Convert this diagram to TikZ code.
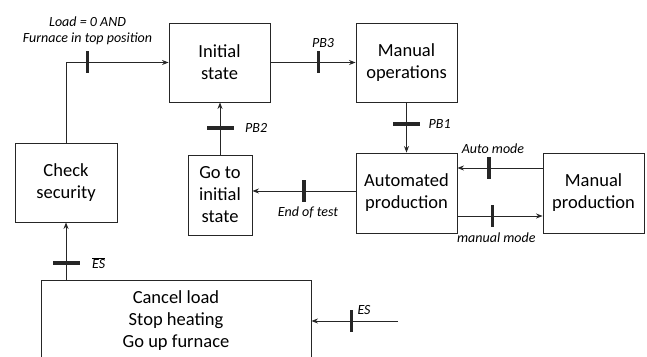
\documentclass[tikz,border=0pt]{standalone}
\usepackage{fontspec}
\setmainfont{Carlito}
\usetikzlibrary{arrows.meta,positioning}

\tikzset{
  state/.style={draw=black!85, line width=0.9pt, align=center, inner sep=2pt,
    font=\fontsize{18.5}{22}\selectfont},
  link/.style={line width=0.9pt, draw=black!85},
  vtrans/.style={fill=black!85, inner sep=0pt, minimum width=3.2pt, minimum height=22pt},
  htrans/.style={fill=black!85, inner sep=0pt, minimum width=27pt, minimum height=3.5pt},
  lbl/.style={inner sep=0pt, align=center, font=\fontsize{14}{16}\selectfont\itshape}
}

\begin{document}
\begin{tikzpicture}[x=1pt, y=1pt, >={Stealth[length=6.5pt,width=5pt]}]
  \useasboundingbox (0,0) rectangle (647,356);

  % Steps
  \node[state, minimum width=101pt, minimum height=79pt] (init) at (219.5,293.5) {Initial\\state};
  \node[state, minimum width=101pt, minimum height=79pt] (manops) at (406.5,293.5) {Manual\\operations};
  \node[state, minimum width=102pt, minimum height=79pt] (check) at (66,173.5) {Check\\security};
  \node[state, minimum width=64pt, minimum height=80pt] (goto) at (220,161) {Go to\\initial\\state};
  \node[state, minimum width=101pt, minimum height=80pt] (auto) at (406.5,163) {Automated\\production};
  \node[state, minimum width=101pt, minimum height=80pt] (manprod) at (593.5,163) {Manual\\production};
  \node[state, minimum width=270pt, minimum height=82pt] (cancel) at (176,35) {Cancel load\\Stop heating\\Go up furnace};

  % Check security -> Initial state
  \coordinate (c1) at (check.north |- init.west);
  \draw[link] (check.north) -- (c1);
  \draw[link,->] (c1) -- node[vtrans, pos=0.21] (t1) {} (init.west);
  \node[lbl, above=6pt of t1] (l1) {Load = 0 AND\\Furnace in top position};

  % Initial state -> Manual operations
  \draw[link,->] (init.east) -- node[vtrans, pos=0.56] (t2) {} (manops.west);
  \node[lbl, above=3pt of t2, xshift=5pt] (l2) {PB3};

  % Manual operations -> Automated production
  \draw[link,->] (manops.south) -- node[htrans, pos=0.43] (t3) {} (auto.north);
  \node[lbl, right=8pt of t3] (l3) {PB1};

  % Go to initial state -> Initial state
  \draw[link,->] (goto.north) -- node[htrans, pos=0.51] (t4) {} (goto.north |- init.south);
  \node[lbl, right=11pt of t4] (l4) {PB2};

  % Automated production -> Go to initial state
  \draw[link,->] ([yshift=2pt]auto.west) -- node[vtrans, pos=0.5] (t5) {} ([yshift=2pt]auto.west -| goto.east);
  \node[lbl, below=4pt of t5, xshift=4pt] (l5) {End of test};

  % Manual production <-> Automated production
  \draw[link,->] ([yshift=25pt]manprod.west) -- node[vtrans, pos=0.63] (t6) {} ([yshift=25pt]auto.east);
  \node[lbl, above=3pt of t6, xshift=4pt] (l6) {Auto mode};
  \draw[link,->] ([yshift=-23pt]auto.east) -- node[vtrans, pos=0.41] (t7) {} ([yshift=-23pt]manprod.west);
  \node[lbl, below=5pt of t7, xshift=4pt] (l7) {manual mode};

  % Emergency stop
  \draw[link,->] (check.south |- cancel.north) -- node[htrans, pos=0.29] (t8) {} (check.south);
  \node[lbl, right=12pt of t8] (l8) {$\overline{\mathit{ES}}$};
  \coordinate (esin) at (398,35);
  \draw[link,->] (esin) -- node[vtrans, pos=0.54] (t9) {} (cancel.east);
  \node[lbl, anchor=west] (l9) at ([xshift=4pt]t9.north east) {ES};
\end{tikzpicture}
\end{document}
